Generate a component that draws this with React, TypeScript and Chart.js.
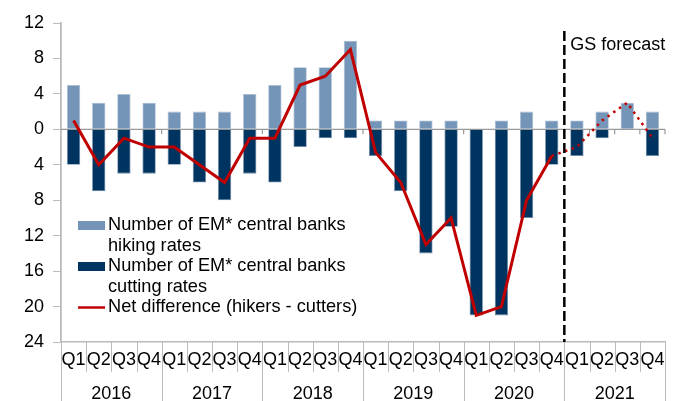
import React, { useEffect, useRef } from 'react';
import { Chart, registerables } from 'chart.js';

Chart.register(...registerables);

const quarters = [
  'Q1', 'Q2', 'Q3', 'Q4', 'Q1', 'Q2', 'Q3', 'Q4', 'Q1', 'Q2', 'Q3', 'Q4',
  'Q1', 'Q2', 'Q3', 'Q4', 'Q1', 'Q2', 'Q3', 'Q4', 'Q1', 'Q2', 'Q3', 'Q4',
];
const years = ['2016', '2017', '2018', '2019', '2020', '2021'];
const hiking = [5, 3, 4, 3, 2, 2, 2, 4, 5, 7, 7, 10, 1, 1, 1, 1, 0, 1, 2, 1, 1, 2, 3, 2];
const cutting = [-4, -7, -5, -5, -4, -6, -8, -5, -6, -2, -1, -1, -3, -7, -14, -11, -21, -21, -10, -4, -3, -1, 0, -3];
const netActual = [1, -4, -1, -2, -2, -4, -6, -1, -1, 5, 6, 9, -2.6, -6, -13, -10, -21, -20, -8, -3, null, null, null, null];
const netForecast = [null, null, null, null, null, null, null, null, null, null, null, null, null, null, null, null, null, null, null, -3, -2, 1, 3, -1];
const forecastStartIndex = 20;
const forecastLabel = 'GS forecast';
const legendHiking = ['Number of EM* central banks', 'hiking rates'];
const legendCutting = ['Number of EM* central banks', 'cutting rates'];
const legendNet = 'Net difference (hikers - cutters)';

const FONT = "'Liberation Sans', Arial, sans-serif";
const LIGHT = '#7494B8';
const DARK = '#003460';
const RED = '#C00000';
const AXIS = '#BBBBBB';

const overlayPlugin = {
  id: 'overlay',
  beforeDatasetsDraw(chart: any) {
    const { ctx, chartArea, scales } = chart;
    const x = scales.x;
    const y = scales.y;
    const y0 = y.getPixelForValue(0);
    ctx.save();
    ctx.strokeStyle = '#999999';
    ctx.lineWidth = 1.2;
    ctx.beginPath();
    ctx.moveTo(chartArea.left, y0);
    ctx.lineTo(chartArea.right, y0);
    ctx.stroke();
    const step = x.getPixelForValue(1) - x.getPixelForValue(0);
    ctx.beginPath();
    for (let i = 4; i <= quarters.length; i++) {
      if (i % 4 === 0 || i > forecastStartIndex) {
        const px = x.getPixelForValue(i) - step / 2;
        ctx.moveTo(px, y0);
        ctx.lineTo(px, y0 + 5);
      }
    }
    ctx.stroke();
    ctx.restore();
  },
  afterDraw(chart: any) {
    const { ctx, chartArea, scales } = chart;
    const x = scales.x;
    const step = x.getPixelForValue(1) - x.getPixelForValue(0);
    const bottom = chartArea.bottom;
    ctx.save();
    ctx.strokeStyle = AXIS;
    ctx.lineWidth = 1;
    ctx.beginPath();
    for (let i = 0; i <= quarters.length; i++) {
      const px = Math.round(x.getPixelForValue(i) - step / 2) + 0.5;
      const isYear = i % 4 === 0;
      ctx.moveTo(px, bottom);
      ctx.lineTo(px, isYear ? 401 : bottom + 30);
    }
    ctx.stroke();
    ctx.fillStyle = '#000';
    ctx.font = `18px ${FONT}`;
    ctx.textAlign = 'center';
    ctx.textBaseline = 'middle';
    quarters.forEach((q, i) => {
      ctx.fillText(q, x.getPixelForValue(i), bottom + 18);
    });
    years.forEach((yr, j) => {
      const c = (x.getPixelForValue(j * 4) + x.getPixelForValue(j * 4 + 3)) / 2;
      ctx.fillText(yr, c, bottom + 52);
    });
    const fx = x.getPixelForValue(forecastStartIndex) - step / 2;
    ctx.strokeStyle = '#000';
    ctx.lineWidth = 2.5;
    ctx.setLineDash([10, 4]);
    ctx.beginPath();
    ctx.moveTo(fx, 31);
    ctx.lineTo(fx, bottom);
    ctx.stroke();
    ctx.setLineDash([]);
    ctx.font = `18px ${FONT}`;
    ctx.textAlign = 'left';
    ctx.fillText(forecastLabel, fx + 6, 45);
    ctx.font = `18.2px ${FONT}`;
    const sx = 78;
    const sw = 27;
    const tx = 108;
    ctx.fillStyle = LIGHT;
    ctx.fillRect(sx, 221, sw, 9);
    ctx.fillStyle = DARK;
    ctx.fillRect(sx, 262, sw, 9);
    ctx.strokeStyle = RED;
    ctx.lineWidth = 2.5;
    ctx.beginPath();
    ctx.moveTo(sx, 307.5);
    ctx.lineTo(sx + sw, 307.5);
    ctx.stroke();
    ctx.fillStyle = '#000';
    ctx.fillText(legendHiking[0], tx, 225);
    ctx.fillText(legendHiking[1], tx, 246);
    ctx.fillText(legendCutting[0], tx, 266);
    ctx.fillText(legendCutting[1], tx, 287);
    ctx.fillText(legendNet, tx, 307);
    ctx.restore();
  },
};

export default function App() {
  const ref = useRef<HTMLCanvasElement | null>(null);
  useEffect(() => {
    if (!ref.current) return;
    const chart = new Chart(ref.current, {
      data: {
        labels: quarters.map((q, i) => `${q} ${years[Math.floor(i / 4)]}`),
        datasets: [
          {
            type: 'line',
            data: netActual,
            borderColor: RED,
            borderWidth: 3,
            pointRadius: 0,
            tension: 0,
            spanGaps: false,
            order: 0,
          },
          {
            type: 'line',
            data: netForecast,
            borderColor: RED,
            borderWidth: 2.5,
            borderDash: [2.5, 4.5],
            borderCapStyle: 'butt',
            pointRadius: 0,
            tension: 0,
            spanGaps: false,
            order: 0,
          },
          {
            type: 'bar',
            data: hiking,
            backgroundColor: LIGHT,
            borderColor: '#A9BDD4',
            borderWidth: 0.8,
            grouped: false,
            categoryPercentage: 1,
            barPercentage: 0.53,
            order: 1,
          },
          {
            type: 'bar',
            data: cutting,
            backgroundColor: DARK,
            borderColor: '#6F8BA8',
            borderWidth: 0.8,
            grouped: false,
            categoryPercentage: 1,
            barPercentage: 0.53,
            order: 1,
          },
        ] as any,
      },
      options: {
        responsive: false,
        animation: false,
        layout: { padding: { top: 23, right: 19, left: 0, bottom: 0 } },
        plugins: { legend: { display: false }, tooltip: { enabled: false } },
        scales: {
          x: {
            type: 'category',
            offset: true,
            ticks: { display: false },
            grid: { display: false, drawTicks: false },
            border: { display: true, color: AXIS, width: 1.5 },
            afterFit: (s: any) => { s.height = 59; },
          },
          y: {
            min: -24,
            max: 12,
            ticks: {
              stepSize: 4,
              color: '#000',
              padding: 9,
              font: { size: 18, family: FONT },
              callback: (v: any) => String(Math.abs(Number(v))),
            },
            grid: { drawOnChartArea: false, drawTicks: true, tickLength: 8, color: AXIS },
            border: { display: true, color: AXIS, width: 1.8 },
            afterFit: (s: any) => { s.width = 61; },
          },
        },
      } as any,
      plugins: [overlayPlugin],
    });
    return () => chart.destroy();
  }, []);
  return (
    <div style={{ position: 'fixed', left: 0, top: 0, width: 684, height: 401, background: '#fff' }}>
      <canvas ref={ref} width={684} height={401} style={{ width: 684, height: 401 }} />
    </div>
  );
}
